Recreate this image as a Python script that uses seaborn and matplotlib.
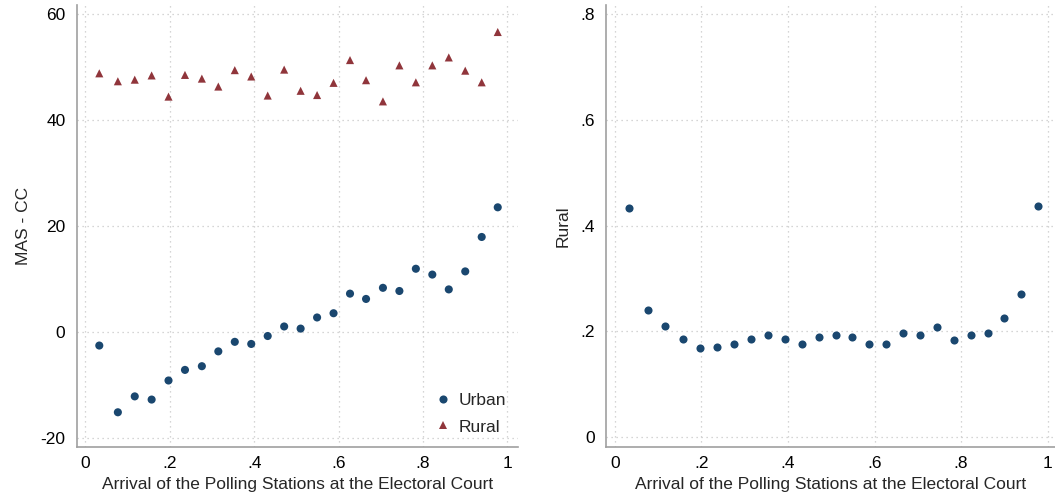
import matplotlib
matplotlib.use("Agg")
import matplotlib.pyplot as plt
import seaborn as sns
import pandas as pd

# ---- data ----
x_bins = [0.033, 0.077, 0.117, 0.157, 0.197, 0.236, 0.276, 0.315, 0.354, 0.393,
          0.432, 0.471, 0.510, 0.549, 0.588, 0.627, 0.665, 0.705, 0.744, 0.783,
          0.822, 0.861, 0.900, 0.939, 0.977]
urban_diff = [-2.6, -15.2, -12.2, -12.8, -9.2, -7.2, -6.5, -3.7, -1.9, -2.3,
              -0.8, 1.0, 0.6, 2.7, 3.5, 7.2, 6.2, 8.3, 7.7, 11.9,
              10.8, 8.0, 11.4, 17.9, 23.5]
rural_diff = [48.8, 47.3, 47.6, 48.4, 44.4, 48.5, 47.8, 46.3, 49.4, 48.2,
              44.6, 49.5, 45.5, 44.7, 47.0, 51.3, 47.5, 43.5, 50.3, 47.1,
              50.3, 51.8, 49.3, 47.1, 56.6]
rural_share = [0.433, 0.240, 0.211, 0.185, 0.169, 0.171, 0.177, 0.186, 0.194, 0.185,
               0.176, 0.189, 0.194, 0.189, 0.177, 0.177, 0.197, 0.194, 0.208, 0.183,
               0.194, 0.198, 0.226, 0.271, 0.438]
groups = ["Urban", "Rural"]
left_yticks = [-20, 0, 20, 40, 60]
left_yticklabels = ["-20", "0", "20", "40", "60"]
right_yticks = [0, 0.2, 0.4, 0.6, 0.8]
right_yticklabels = ["0", ".2", ".4", ".6", ".8"]
xticks = [0, 0.2, 0.4, 0.6, 0.8, 1.0]
xticklabels = ["0", ".2", ".4", ".6", ".8", "1"]
xlabel = "Arrival of the Polling Stations at the Electoral Court"
left_ylabel = "MAS - CC"
right_ylabel = "Rural"

NAVY = "#1a476f"
MAROON = "#90353b"
GRID = "#c8c8c8"
SPINE = "#a0a0a0"

sns.set_style("white")
plt.rcParams["font.family"] = ["Liberation Sans", "DejaVu Sans"]
plt.rcParams["font.size"] = 12

df_left = pd.DataFrame({
    "x": x_bins + x_bins,
    "y": urban_diff + rural_diff,
    "group": [groups[0]] * len(x_bins) + [groups[1]] * len(x_bins),
})
df_right = pd.DataFrame({"x": x_bins, "y": rural_share})

fig = plt.figure(figsize=(10.55, 4.97), dpi=100)
W, H = 1055, 497
ax1 = fig.add_axes([76.5 / W, 1 - 446.7 / H, (518 - 76.5) / W, (446.7 - 5) / H])
ax2 = fig.add_axes([605.7 / W, 1 - 446.7 / H, (1055.5 - 605.7) / W, (446.7 - 5) / H])

sns.scatterplot(data=df_left, x="x", y="y", hue="group", style="group",
                hue_order=groups, style_order=groups,
                palette={groups[0]: NAVY, groups[1]: MAROON},
                markers={groups[0]: "o", groups[1]: "^"},
                s=34, linewidth=0, ax=ax1, zorder=3)
sns.scatterplot(data=df_right, x="x", y="y", color=NAVY, marker="o",
                s=34, linewidth=0, ax=ax2, zorder=3)

ax1.set_xlim(-0.021, 1.025)
ax1.set_ylim(-21.7, 61.7)
ax2.set_xlim(-0.021, 1.018)
ax2.set_ylim(-0.0178, 0.817)

for ax, yt, ytl, yl in [(ax1, left_yticks, left_yticklabels, left_ylabel),
                        (ax2, right_yticks, right_yticklabels, right_ylabel)]:
    ax.set_xticks(xticks)
    ax.set_xticklabels(xticklabels)
    ax.set_yticks(yt)
    ax.set_yticklabels(ytl)
    ax.set_xlabel(xlabel, fontsize=12.5, labelpad=4)
    ax.set_ylabel(yl, fontsize=12.5, labelpad=7)
    ax.grid(True, color=GRID, linestyle=(0, (1, 3)), linewidth=0.9)
    ax.set_axisbelow(True)
    for side in ["top", "right"]:
        ax.spines[side].set_visible(False)
    for side in ["left", "bottom"]:
        ax.spines[side].set_color(SPINE)
        ax.spines[side].set_linewidth(1.2)
    ax.tick_params(axis="both", direction="out", length=5, width=1.0,
                   color=SPINE, labelsize=12.5, pad=3, labelcolor="black")
    ax.tick_params(axis="x", pad=2)

leg = ax1.legend(loc="lower right", frameon=False, fontsize=12.5,
                 handlelength=1.0, handletextpad=0.4, borderaxespad=0.3,
                 labelspacing=0.65, borderpad=0.4)

fig.savefig("out.png", dpi=100)
